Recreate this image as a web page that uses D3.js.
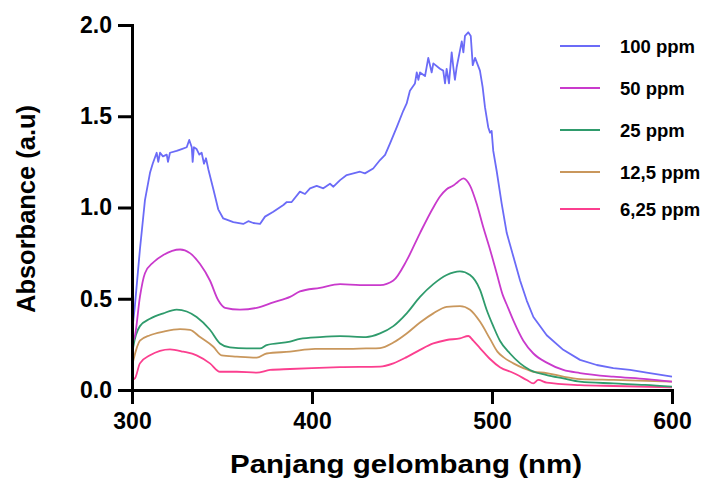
<!DOCTYPE html>
<html><head><meta charset="utf-8">
<script src="https://cdn.jsdelivr.net/npm/d3@7"></script>
<style>
html,body{margin:0;padding:0;background:#fff;}
svg text{font-family:"Liberation Sans",Arial,Helvetica,sans-serif;font-weight:bold;fill:#000;}
</style></head>
<body>
<svg id="chart" width="709" height="481"></svg>
<script>
// ---- data ----
const seriesNames = ["100 ppm", "50 ppm", "25 ppm", "12,5 ppm", "6,25 ppm"];
const seriesColors = ["#6b6bf7", "#c93acc", "#2f9b6c", "#c9975c", "#fb3f8f"];
const xTicks = [300, 400, 500, 600];
const yTicks = [0.0, 0.5, 1.0, 1.5, 2.0];

const wl100 = [300,300.6,301.5,302.5,304.4,307.2,310,311.5,313.7,314.6,315.6,317.2,319.3,320,321.1,324.8,327.6,330.4,331.8,333.2,333.7,334.4,335.9,337.4,338.7,340,341.1,342.4,345.2,347.9,350.7,356.3,361.8,364.6,367.4,371.1,373.9,378.5,384.1,386,388.7,393.3,396.1,398.9,402.6,406.3,410,411.9,415.6,419.3,423,426.7,429.4,434,437.8,440.6,443.3,447.1,450.7,452.6,454.4,457.2,458.2,459.1,460,462.8,464.6,466.5,467.4,471.1,472.9,473.9,474.8,476.1,477.6,478.5,479.4,480.4,482.2,483.2,484.1,485,486.8,488.2,489.3,490.6,493.3,494.8,496.1,497.9,498.9,499.8,500.7,502.6,505.4,508.2,511.9,515.6,519.3,523,530.4,539.6,548.9,558.2,567.4,576.7,585.9,600];
const abs100 = [0.33,0.37,0.45,0.56,0.77,1.04,1.19,1.24,1.30,1.25,1.30,1.28,1.29,1.25,1.30,1.31,1.32,1.33,1.37,1.33,1.25,1.33,1.32,1.29,1.30,1.24,1.27,1.21,1.10,0.99,0.94,0.92,0.91,0.925,0.915,0.91,0.95,0.977,1.014,1.03,1.03,1.087,1.074,1.105,1.118,1.105,1.13,1.114,1.15,1.178,1.187,1.196,1.187,1.214,1.26,1.288,1.35,1.44,1.53,1.57,1.64,1.68,1.74,1.70,1.74,1.72,1.82,1.74,1.79,1.76,1.75,1.68,1.76,1.68,1.85,1.77,1.70,1.77,1.86,1.91,1.85,1.94,1.96,1.94,1.78,1.82,1.75,1.66,1.55,1.44,1.41,1.42,1.31,1.20,1.02,0.86,0.73,0.60,0.49,0.40,0.30,0.22,0.165,0.137,0.12,0.11,0.095,0.073];

const wl50 = [300,301.7,304.4,307.2,311.9,317.4,326.7,332.2,337.8,343.3,348,351.7,360,369.3,378.5,387.8,393.3,404.4,415.6,426.7,437.8,445.2,452.6,460,467.4,471.1,474.8,478.5,481,484.1,487.8,491.5,495.2,498.9,502.6,506,508.1,511.9,517.4,523,530.4,539.6,548.9,567.4,585.9,600];
const abs50 = [0.26,0.30,0.51,0.64,0.70,0.74,0.77,0.75,0.69,0.60,0.49,0.45,0.44,0.45,0.48,0.51,0.54,0.56,0.58,0.575,0.575,0.60,0.71,0.86,1.00,1.06,1.10,1.12,1.14,1.16,1.12,1.02,0.89,0.77,0.64,0.52,0.47,0.38,0.27,0.20,0.15,0.11,0.093,0.073,0.06,0.046];

const wl25 = [300,300.7,304.4,310,317.4,324.8,330.4,335.9,343.3,348.9,354.4,363.7,371.1,374.8,387.8,393.3,404.4,415.6,430,437.8,445.2,452.6,460,467.4,474.8,482.2,487.8,493.3,497,500.7,504.4,510,515.6,521.1,530.4,539.6,548.9,567.4,585,600];
const abs25 = [0.19,0.237,0.35,0.39,0.42,0.44,0.43,0.40,0.33,0.255,0.233,0.228,0.228,0.246,0.265,0.28,0.29,0.295,0.29,0.31,0.35,0.42,0.51,0.58,0.63,0.65,0.63,0.55,0.44,0.35,0.27,0.20,0.146,0.11,0.082,0.064,0.046,0.036,0.028,0.018];

const wl12 = [300,300.7,304.4,310,317.4,326.7,332.2,337.8,345.2,349.8,358.2,369.3,374.8,387.8,401.7,415.6,430,437.8,445.2,452.6,460,467.4,474.8,482.2,487.8,493.3,498.9,503,506.3,511.9,517.4,523,530.4,539.6,548.9,567.4,600];
const abs12 = [0.13,0.16,0.27,0.30,0.32,0.334,0.33,0.29,0.237,0.19,0.183,0.177,0.20,0.21,0.225,0.225,0.228,0.23,0.26,0.31,0.37,0.42,0.456,0.46,0.44,0.375,0.28,0.21,0.18,0.146,0.12,0.10,0.093,0.073,0.06,0.055,0.046];

const wl6 = [300,301.7,304.4,310,321.1,328.5,335.9,343.3,348.9,358.2,369.3,376.7,387.8,400,415.6,437.8,445.2,452.6,460,467.4,474.8,482.2,486.9,489.6,493.3,498.9,504.4,511.9,519.3,523,525.7,530.4,548.9,567.4,600];
const abs6 = [0.055,0.065,0.146,0.19,0.223,0.21,0.19,0.146,0.10,0.10,0.095,0.11,0.115,0.12,0.125,0.128,0.146,0.18,0.22,0.255,0.274,0.283,0.296,0.27,0.23,0.17,0.125,0.093,0.055,0.036,0.055,0.04,0.027,0.022,0.015];

const seriesWl = [wl100, wl50, wl25, wl12, wl6];
const seriesAbs = [abs100, abs50, abs25, abs12, abs6];

// ---- layout ----
const svg = d3.select("#chart");
const x = d3.scaleLinear().domain([300, 600]).range([132, 672]);
const y = d3.scaleLinear().domain([0, 2]).range([390, 25]);

// draw series (lowest first so top curves overlay)
for (let i = seriesNames.length - 1; i >= 0; i--) {
  const pts = seriesWl[i].map((w, k) => [w, seriesAbs[i][k]]);
  const line = d3.line().x(d => x(d[0])).y(d => y(d[1]))
    .curve(i === 0 ? d3.curveLinear : d3.curveMonotoneX);
  svg.append("path").datum(pts)
    .attr("d", line)
    .attr("fill", "none")
    .attr("stroke", seriesColors[i])
    .attr("stroke-width", 1.8)
    .attr("stroke-linejoin", "round");
}

// axes
const xAxis = svg.append("g").attr("transform", "translate(0,390)")
  .call(d3.axisBottom(x).tickValues(xTicks).tickFormat(d3.format("d")).tickSize(14).tickPadding(9).tickSizeOuter(0));
const yAxis = svg.append("g").attr("transform", "translate(132,0)")
  .call(d3.axisLeft(y).tickValues(yTicks).tickFormat(d3.format(".1f")).tickSize(14).tickPadding(6).tickSizeOuter(0));

[xAxis, yAxis].forEach(g => {
  g.select(".domain").attr("stroke", "#000").attr("stroke-width", 3).attr("stroke-linecap", "square");
  g.selectAll(".tick line").attr("stroke", "#000").attr("stroke-width", 3);
  g.selectAll(".tick text").style("font-size", "23px").style("font-family", "'Liberation Sans',Arial,sans-serif").style("font-weight", "bold").attr("fill", "#000");
});

// axis titles
svg.append("text")
  .attr("x", 406).attr("y", 473)
  .attr("text-anchor", "middle")
  .attr("textLength", 352).attr("lengthAdjust", "spacingAndGlyphs")
  .style("font-size", "26px")
  .text("Panjang gelombang (nm)");

svg.append("text")
  .attr("transform", "translate(35,209) rotate(-90)")
  .attr("text-anchor", "middle")
  .attr("textLength", 208).attr("lengthAdjust", "spacingAndGlyphs")
  .style("font-size", "25px")
  .text("Absorbance (a.u)");

// legend
const legendY = [46, 88, 130, 172, 209];
const legend = svg.append("g");
seriesNames.forEach((name, i) => {
  legend.append("line")
    .attr("x1", 560).attr("x2", 600)
    .attr("y1", legendY[i]).attr("y2", legendY[i])
    .attr("stroke", seriesColors[i]).attr("stroke-width", 2);
  legend.append("text")
    .attr("x", 620).attr("y", legendY[i]).attr("dy", "0.36em")
    .style("font-size", "18.5px")
    .text(name);
});
</script>
</body></html>
